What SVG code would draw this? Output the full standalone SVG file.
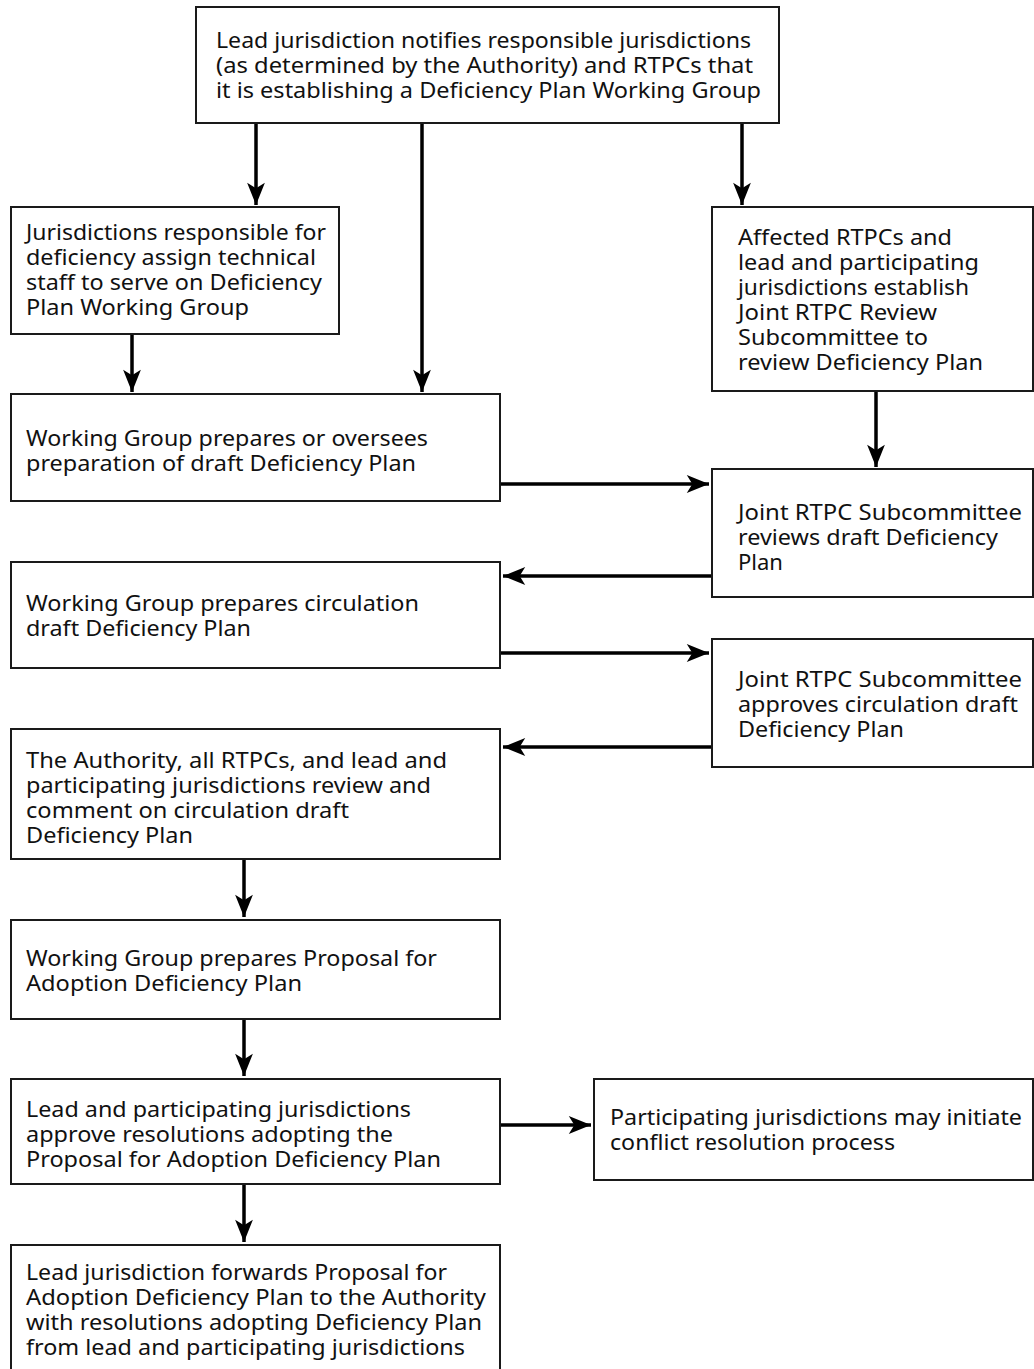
<svg xmlns="http://www.w3.org/2000/svg" width="1034" height="1369" viewBox="0 0 1034 1369">
  <style>
    .box { fill: #ffffff; stroke: #1a1a1a; stroke-width: 2; }
    .t { font-family: "Noto Sans", "Open Sans", "Liberation Sans", sans-serif; font-size: 22px; fill: #111111; }
    .c { stroke: #000000; stroke-width: 3.5; fill: none; marker-end: url(#head); }
  </style>
  <defs>
    <marker id="head" markerUnits="userSpaceOnUse" markerWidth="24" markerHeight="20" viewBox="-20 -9 21 18" refX="0" refY="0" orient="auto">
      <path d="M0,0 L-20,-8 L-15,0 L-20,8 Z" fill="#000000"/>
    </marker>
  </defs>
  <rect width="1034" height="1369" fill="#ffffff"/>

  <!-- connectors -->
  <g id="connectors">
    <line class="c" x1="256" y1="123" x2="256" y2="205"/>
    <line class="c" x1="422" y1="123" x2="422" y2="392"/>
    <line class="c" x1="742" y1="123" x2="742" y2="205"/>
    <line class="c" x1="132" y1="334" x2="132" y2="392"/>
    <line class="c" x1="876" y1="391" x2="876" y2="467"/>
    <line class="c" x1="500" y1="484" x2="709" y2="484"/>
    <line class="c" x1="712" y1="576" x2="503" y2="576"/>
    <line class="c" x1="500" y1="653" x2="709" y2="653"/>
    <line class="c" x1="712" y1="747" x2="503" y2="747"/>
    <line class="c" x1="244" y1="859" x2="244" y2="917"/>
    <line class="c" x1="244" y1="1019" x2="244" y2="1076"/>
    <line class="c" x1="500" y1="1125" x2="591" y2="1125"/>
    <line class="c" x1="244" y1="1184" x2="244" y2="1242"/>
  </g>

  <g id="n-notify">
    <rect class="box" x="196" y="7" width="583" height="116"/>
    <text class="t" x="216" y="48" textLength="535" lengthAdjust="spacingAndGlyphs">Lead jurisdiction notifies responsible jurisdictions</text>
    <text class="t" x="216" y="73" textLength="537" lengthAdjust="spacingAndGlyphs">(as determined by the Authority) and RTPCs that</text>
    <text class="t" x="216" y="98" textLength="545" lengthAdjust="spacingAndGlyphs">it is establishing a Deficiency Plan Working Group</text>
  </g>

  <g id="n-assign">
    <rect class="box" x="11" y="207" width="328" height="127"/>
    <text class="t" x="26" y="240" textLength="300" lengthAdjust="spacingAndGlyphs">Jurisdictions responsible for</text>
    <text class="t" x="26" y="265" textLength="290" lengthAdjust="spacingAndGlyphs">deficiency assign technical</text>
    <text class="t" x="26" y="290" textLength="296" lengthAdjust="spacingAndGlyphs">staff to serve on Deficiency</text>
    <text class="t" x="26" y="315" textLength="223" lengthAdjust="spacingAndGlyphs">Plan Working Group</text>
  </g>

  <g id="n-establish">
    <rect class="box" x="712" y="207" width="321" height="184"/>
    <text class="t" x="738" y="245" textLength="214" lengthAdjust="spacingAndGlyphs">Affected RTPCs and</text>
    <text class="t" x="738" y="270" textLength="241" lengthAdjust="spacingAndGlyphs">lead and participating</text>
    <text class="t" x="738" y="295" textLength="231" lengthAdjust="spacingAndGlyphs">jurisdictions establish</text>
    <text class="t" x="738" y="320" textLength="199" lengthAdjust="spacingAndGlyphs">Joint RTPC Review</text>
    <text class="t" x="738" y="345" textLength="190" lengthAdjust="spacingAndGlyphs">Subcommittee to</text>
    <text class="t" x="738" y="370" textLength="245" lengthAdjust="spacingAndGlyphs">review Deficiency Plan</text>
  </g>

  <g id="n-prepare-draft">
    <rect class="box" x="11" y="394" width="489" height="107"/>
    <text class="t" x="26" y="446" textLength="402" lengthAdjust="spacingAndGlyphs">Working Group prepares or oversees</text>
    <text class="t" x="26" y="471" textLength="390" lengthAdjust="spacingAndGlyphs">preparation of draft Deficiency Plan</text>
  </g>

  <g id="n-review-draft">
    <rect class="box" x="712" y="469" width="321" height="128"/>
    <text class="t" x="738" y="520" textLength="284" lengthAdjust="spacingAndGlyphs">Joint RTPC Subcommittee</text>
    <text class="t" x="738" y="545" textLength="260" lengthAdjust="spacingAndGlyphs">reviews draft Deficiency</text>
    <text class="t" x="738" y="570" textLength="45" lengthAdjust="spacingAndGlyphs">Plan</text>
  </g>

  <g id="n-prepare-circulation">
    <rect class="box" x="11" y="562" width="489" height="106"/>
    <text class="t" x="26" y="611" textLength="393" lengthAdjust="spacingAndGlyphs">Working Group prepares circulation</text>
    <text class="t" x="26" y="636" textLength="225" lengthAdjust="spacingAndGlyphs">draft Deficiency Plan</text>
  </g>

  <g id="n-approve-circulation">
    <rect class="box" x="712" y="639" width="321" height="128"/>
    <text class="t" x="738" y="687" textLength="284" lengthAdjust="spacingAndGlyphs">Joint RTPC Subcommittee</text>
    <text class="t" x="738" y="712" textLength="280" lengthAdjust="spacingAndGlyphs">approves circulation draft</text>
    <text class="t" x="738" y="737" textLength="166" lengthAdjust="spacingAndGlyphs">Deficiency Plan</text>
  </g>

  <g id="n-comment">
    <rect class="box" x="11" y="729" width="489" height="130"/>
    <text class="t" x="26" y="768" textLength="421" lengthAdjust="spacingAndGlyphs">The Authority, all RTPCs, and lead and</text>
    <text class="t" x="26" y="793" textLength="405" lengthAdjust="spacingAndGlyphs">participating jurisdictions review and</text>
    <text class="t" x="26" y="818" textLength="323" lengthAdjust="spacingAndGlyphs">comment on circulation draft</text>
    <text class="t" x="26" y="843" textLength="167" lengthAdjust="spacingAndGlyphs">Deficiency Plan</text>
  </g>

  <g id="n-proposal">
    <rect class="box" x="11" y="920" width="489" height="99"/>
    <text class="t" x="26" y="966" textLength="411" lengthAdjust="spacingAndGlyphs">Working Group prepares Proposal for</text>
    <text class="t" x="26" y="991" textLength="276" lengthAdjust="spacingAndGlyphs">Adoption Deficiency Plan</text>
  </g>

  <g id="n-resolutions">
    <rect class="box" x="11" y="1079" width="489" height="105"/>
    <text class="t" x="26" y="1117" textLength="385" lengthAdjust="spacingAndGlyphs">Lead and participating jurisdictions</text>
    <text class="t" x="26" y="1142" textLength="367" lengthAdjust="spacingAndGlyphs">approve resolutions adopting the</text>
    <text class="t" x="26" y="1167" textLength="415" lengthAdjust="spacingAndGlyphs">Proposal for Adoption Deficiency Plan</text>
  </g>

  <g id="n-conflict">
    <rect class="box" x="594" y="1079" width="439" height="101"/>
    <text class="t" x="610" y="1125" textLength="412" lengthAdjust="spacingAndGlyphs">Participating jurisdictions may initiate</text>
    <text class="t" x="610" y="1150" textLength="285" lengthAdjust="spacingAndGlyphs">conflict resolution process</text>
  </g>

  <g id="n-forward">
    <rect class="box" x="11" y="1245" width="489" height="140"/>
    <text class="t" x="26" y="1280" textLength="421" lengthAdjust="spacingAndGlyphs">Lead jurisdiction forwards Proposal for</text>
    <text class="t" x="26" y="1305" textLength="460" lengthAdjust="spacingAndGlyphs">Adoption Deficiency Plan to the Authority</text>
    <text class="t" x="26" y="1330" textLength="456" lengthAdjust="spacingAndGlyphs">with resolutions adopting Deficiency Plan</text>
    <text class="t" x="26" y="1355" textLength="439" lengthAdjust="spacingAndGlyphs">from lead and participating jurisdictions</text>
  </g>
</svg>
